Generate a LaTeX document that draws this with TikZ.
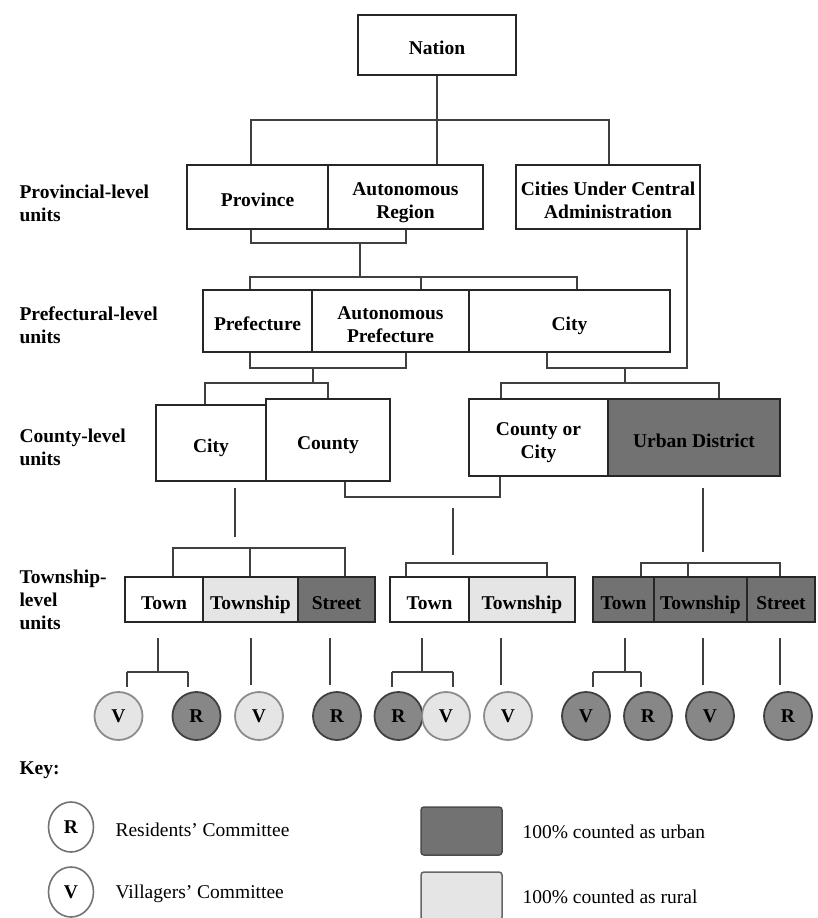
\documentclass[tikz,border=0pt]{standalone}
\usepackage{fontspec}
\setmainfont{Liberation Serif}
\usetikzlibrary{positioning}
\usetikzlibrary{shapes}
\usetikzlibrary{calc}
\usepackage{xcolor}
\definecolor{urbangray}{RGB}{114,114,114}
\definecolor{ruralgray}{RGB}{229,229,229}
\newcommand{\bxstrut}{\rule[-4.5pt]{0pt}{28pt}}

\begin{document}
\begin{tikzpicture}[x=1pt, y=-1pt,
        every node/.style={font=\fontsize{19.5}{23}\selectfont\bfseries},
        box/.style={draw=black!85, line width=2.4pt, align=center, inner sep=0pt, execute at begin node=\bxstrut},
        urban/.style={box, fill=urbangray},
        rural/.style={box, fill=ruralgray},
        com/.style={circle, line width=1.8pt, minimum size=48, inner sep=0pt},
        comu/.style={com, draw=black!75, fill=urbangray!85},
        comr/.style={com, draw=black!45, fill=ruralgray},
        keyc/.style={ellipse, draw=black!55, line width=1.6pt, fill=white, minimum width=45, minimum height=50, inner sep=0pt},
        lbl/.style={anchor=west, align=left},
        keytxt/.style={anchor=west, font=\fontsize{19.5}{23}\selectfont},
        ln/.style={line width=1.5pt, draw=black!75}]
            \useasboundingbox (0,0) rectangle (817,918);

            % levels
            \node[lbl] (lprov) at (16,203) {Provincial-level\\units};
            \node[lbl] (lpref) at (16,325) {Prefectural-level\\units};
            \node[lbl] (lcnty) at (16,447) {County-level\\units};
            \node[lbl] (ltwsp) at (16,600) {Township-\\level\\units};

            % boxes
            \node[box, minimum width=158, minimum height=60] (nation) at (437,45) {Nation};
            \node[box, minimum width=141, minimum height=64] (prov) at (257.5,197) {Province};
            \node[box, minimum width=155, minimum height=64] (autreg) at (405.5,197) {\bxstrut Autonomous\\Region};
            \node[box, minimum width=184, minimum height=64] (cuca) at (608,197) {\bxstrut Cities Under Central\\Administration};

            \node[box, minimum width=109, minimum height=62] (pref) at (257.5,321) {Prefecture};
            \node[box, minimum width=157, minimum height=62] (autpref) at (390.5,321) {\bxstrut Autonomous\\Prefecture};
            \node[box, minimum width=201, minimum height=62] (cityp) at (569.5,321) {City};

            \node[box, minimum width=110, minimum height=76] (cityc) at (211,443) {City};
            \node[box, minimum width=124, minimum height=82] (county) at (328,440) {County};
            \node[box, minimum width=139, minimum height=77] (coc) at (538.5,437.5) {\bxstrut County or\\City};
            \node[urban, minimum width=172, minimum height=77] (udist) at (694,437.5) {Urban District};

            \node[box, minimum width=78, minimum height=45] (towna) at (164,599.5) {Town};
            \node[rural, minimum width=95, minimum height=45] (twspa) at (250.5,599.5) {Township};
            \node[urban, minimum width=77, minimum height=45] (stra) at (336.5,599.5) {Street};
            \node[box, minimum width=79, minimum height=45] (townb) at (429.5,599.5) {Town};
            \node[rural, minimum width=106, minimum height=45] (twspb) at (522,599.5) {Township};
            \node[urban, minimum width=61, minimum height=45] (townc) at (623.5,599.5) {Town};
            \node[urban, minimum width=93, minimum height=45] (twspc) at (700.5,599.5) {Township};
            \node[urban, minimum width=68, minimum height=45] (strc) at (781,599.5) {Street};

            % committees
            \node[comr] (va) at (118.5,716) {V};
            \node[comu] (ra) at (196.5,716) {R};
            \node[comr] (vb) at (259,716) {V};
            \node[comu] (rb) at (337,716) {R};
            \node[comu] (rc) at (398.5,716) {R};
            \node[comr] (vc) at (446,716) {V};
            \node[comr] (vd) at (508,716) {V};
            \node[comu] (ve) at (586,716) {V};
            \node[comu] (rd) at (648,716) {R};
            \node[comu] (vf) at (710,716) {V};
            \node[comu] (re) at (788,716) {R};

            % nation -> provincial
            \coordinate (n1) at (251,120);
            \coordinate (n2) at (609,120);
            \draw[ln] (nation.south) -- (nation.south |- autreg.north);
            \draw[ln] (prov.north -| n1) -- (n1) -- (n2) -- (cuca.north -| n2);

            % provincial -> prefectural
            \coordinate (p1) at (251,243);
            \coordinate (p2) at (406,243);
            \coordinate (p3) at (360,243);
            \coordinate (p4) at (360,277);
            \coordinate (p5) at (250,277);
            \coordinate (p6) at (577,277);
            \coordinate (p7) at (421,277);
            \draw[ln] (prov.south -| p1) -- (p1) -- (p2) -- (autreg.south -| p2);
            \draw[ln] (p3) -- (p4);
            \draw[ln] (pref.north -| p5) -- (p5) -- (p6) -- (cityp.north -| p6);
            \draw[ln] (p7) -- (autpref.north -| p7);

            % prefectural -> county
            \coordinate (q1) at (250,368);
            \coordinate (q2) at (406,368);
            \coordinate (q3) at (313,368);
            \coordinate (q4) at (313,383);
            \coordinate (q5) at (205,383);
            \coordinate (q6) at (328,383);
            \draw[ln] (pref.south -| q1) -- (q1) -- (q2) -- (autpref.south -| q2);
            \draw[ln] (q3) -- (q4);
            \draw[ln] (cityc.north -| q5) -- (q5) -- (q6) -- (county.north -| q6);

            \coordinate (r1) at (687,368);
            \coordinate (r2) at (547,368);
            \coordinate (r3) at (625,368);
            \coordinate (r4) at (625,383);
            \coordinate (r5) at (501,383);
            \coordinate (r6) at (719,383);
            \draw[ln] (cuca.south -| r1) -- (r1) -- (r2) -- (cityp.south -| r2);
            \draw[ln] (r3) -- (r4);
            \draw[ln] (coc.north -| r5) -- (r5) -- (r6) -- (udist.north -| r6);

            % county -> township
            \coordinate (k1) at (235,488);
            \coordinate (k2) at (235,537);
            \coordinate (k3) at (345,497);
            \coordinate (k4) at (500,497);
            \coordinate (k5) at (453,508);
            \coordinate (k6) at (453,555);
            \coordinate (k7) at (703,488);
            \coordinate (k8) at (703,552);
            \draw[ln] (k1) -- (k2);
            \draw[ln] (county.south -| k3) -- (k3) -- (k4) -- (coc.south -| k4);
            \draw[ln] (k5) -- (k6);
            \draw[ln] (k7) -- (k8);

            \coordinate (t1) at (173,548);
            \coordinate (t2) at (345,548);
            \coordinate (t3) at (250,548);
            \coordinate (t4) at (406,563);
            \coordinate (t5) at (547,563);
            \coordinate (t6) at (641,563);
            \coordinate (t7) at (780,563);
            \coordinate (t8) at (688,563);
            \draw[ln] (towna.north -| t1) -- (t1) -- (t2) -- (stra.north -| t2);
            \draw[ln] (t3) -- (twspa.north -| t3);
            \draw[ln] (townb.north -| t4) -- (t4) -- (t5) -- (twspb.north -| t5);
            \draw[ln] (townc.north -| t6) -- (t6) -- (t7) -- (strc.north -| t7);
            \draw[ln] (t8) -- (twspc.north -| t8);

            % township -> committees
            \coordinate (s1) at (158,638);
            \coordinate (s2) at (158,672);
            \coordinate (s3) at (127,672);
            \coordinate (s4) at (188,672);
            \draw[ln] (s1) -- (s2);
            \draw[ln] (s3) -- (s4);
            \draw[ln, shorten >=4pt] (s3) -- (s3 |- va.north);
            \draw[ln, shorten >=4pt] (s4) -- (s4 |- ra.north);

            \coordinate (s5) at (251,638);
            \coordinate (s6) at (330,638);
            \draw[ln, shorten >=6pt] (s5) -- (s5 |- vb.north);
            \draw[ln, shorten >=6pt] (s6) -- (s6 |- rb.north);

            \coordinate (s7) at (422,638);
            \coordinate (s8) at (422,672);
            \coordinate (s9) at (392,672);
            \coordinate (s10) at (453,672);
            \draw[ln] (s7) -- (s8);
            \draw[ln] (s9) -- (s10);
            \draw[ln, shorten >=4pt] (s9) -- (s9 |- rc.north);
            \draw[ln, shorten >=4pt] (s10) -- (s10 |- vc.north);

            \coordinate (s11) at (501,638);
            \draw[ln, shorten >=6pt] (s11) -- (s11 |- vd.north);

            \coordinate (s12) at (625,638);
            \coordinate (s13) at (625,672);
            \coordinate (s14) at (593,672);
            \coordinate (s15) at (641,672);
            \draw[ln] (s12) -- (s13);
            \draw[ln] (s14) -- (s15);
            \draw[ln, shorten >=4pt] (s14) -- (s14 |- ve.north);
            \draw[ln, shorten >=4pt] (s15) -- (s15 |- rd.north);

            \coordinate (s16) at (703,638);
            \coordinate (s17) at (780,638);
            \draw[ln, shorten >=6pt] (s16) -- (s16 |- vf.north);
            \draw[ln, shorten >=6pt] (s17) -- (s17 |- re.north);

            % key
            \node[lbl] (key) at (16,770) {Key:};
            \node[keyc] (keyr) at (71,827) {R};
            \node[keyc] (keyv) at (71,892) {V};
            \node[keytxt] (keyrt) at (112,830) {Residents' Committee};
            \node[keytxt] (keyvt) at (112,894) {Villagers' Committee};
            \node[draw=black!70, line width=1.5pt, rounded corners=3pt, fill=urbangray, minimum width=81, minimum height=48] (keyu) at (461.5,831) {};
            \node[draw=black!60, line width=1.5pt, rounded corners=3pt, fill=ruralgray, minimum width=81, minimum height=48] (keyl) at (461.5,896) {};
            \node[keytxt] (keyut) at (519,832) {100\% counted as urban};
            \node[keytxt] (keylt) at (519,897) {100\% counted as rural};
        \end{tikzpicture}
\end{document}
